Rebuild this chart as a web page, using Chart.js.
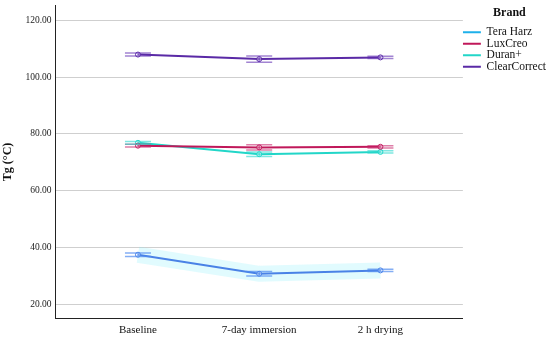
<!DOCTYPE html>
<html lang="en">
<head>
  <meta charset="UTF-8" />
  <title>Tg by brand</title>
  <script src="https://cdn.jsdelivr.net/npm/chart.js"></script>
  <style>
    html, body { margin: 0; padding: 0; background: #fff; }
    #wrap { width: 550px; height: 342px; }
  </style>
</head>
<body>
  <div id="wrap"><canvas id="tgChart"></canvas></div>

  <script>
    const stages = ["Baseline", "7-day immersion", "2 h drying"];
    const brands = ["Tera Harz", "LuxCreo", "Duran+", "ClearCorrect"];
    const yTicks = [20, 40, 60, 80, 100, 120];

    const teraHarz = [37.6, 30.9, 32.1];
    const luxCreo = [75.9, 75.3, 75.5];
    const duranPlus = [76.9, 72.9, 73.7];
    const clearCorrect = [107.9, 106.3, 106.9];

    const teraHarzErr = [0.6, 0.8, 0.4];
    const luxCreoErr = [0.5, 0.9, 0.4];
    const duranPlusErr = [0.5, 0.8, 0.4];
    const clearCorrectErr = [0.5, 1.1, 0.4];

    const seriesValues = [teraHarz, luxCreo, duranPlus, clearCorrect];
    const seriesErr = [teraHarzErr, luxCreoErr, duranPlusErr, clearCorrectErr];
    const lineColors = ["#4a82e6", "#c0185a", "#22d6c8", "#5a2aa6"];
    const legendColors = ["#1eb0ea", "#c0185a", "#22d6c8", "#5a2aa6"];
    const barColors = ["rgba(80,140,240,0.7)", "rgba(200,40,110,0.6)", "rgba(40,215,205,0.6)", "rgba(100,50,180,0.6)"];

    const serif = "'Liberation Serif', 'DejaVu Serif', serif";

    const datasets = brands.map((b, i) => ({
      label: b,
      data: seriesValues[i].map((v, k) => ({ x: k, y: v })),
      borderColor: lineColors[i],
      backgroundColor: lineColors[i],
      borderWidth: 2,
      pointRadius: 2.5,
      pointBorderWidth: 1,
      pointBackgroundColor: "rgba(255,255,255,0.4)",
      tension: 0
    }));

    // light cyan band under Tera Harz
    datasets.push({
      label: "_band",
      data: teraHarz.map((v, k) => ({ x: k, y: v })),
      borderColor: "rgba(120,235,250,0.22)",
      borderWidth: 16,
      pointRadius: 0,
      order: 10
    });

    // error bars drawn through the y scale
    const errorBars = {
      id: "errorBars",
      afterDatasetsDraw(chart) {
        const ctx = chart.ctx;
        const xs = chart.scales.x, ys = chart.scales.y;
        ctx.save();
        seriesValues.forEach((vals, i) => {
          ctx.strokeStyle = barColors[i];
          ctx.lineWidth = 1.5;
          vals.forEach((v, k) => {
            const px = xs.getPixelForValue(k);
            const top = ys.getPixelForValue(v + seriesErr[i][k]);
            const bot = ys.getPixelForValue(v - seriesErr[i][k]);
            ctx.beginPath();
            ctx.moveTo(px - 13, top); ctx.lineTo(px + 13, top);
            ctx.moveTo(px - 13, bot); ctx.lineTo(px + 13, bot);
            ctx.moveTo(px, top); ctx.lineTo(px, bot);
            ctx.stroke();
          });
        });
        ctx.restore();
      }
    };

    new Chart(document.getElementById("tgChart"), {
      type: "line",
      data: { datasets },
      plugins: [errorBars],
      options: {
        responsive: true,
        maintainAspectRatio: false,
        animation: false,
        layout: { padding: { top: 5, right: -6, left: 1, bottom: 0 } },
        plugins: {
          tooltip: { enabled: false },
          legend: {
            position: "right",
            align: "start",
            title: {
              display: true,
              text: "Brand",
              color: "#111",
              font: { family: serif, size: 12, weight: "bold" },
              padding: { top: 2, bottom: 5 }
            },
            labels: {
              color: "#111",
              font: { family: serif, size: 11.5 },
              boxWidth: 18,
              boxHeight: 2,
              padding: 0,
              generateLabels(chart) {
                return brands.map((b, i) => ({
                  text: b,
                  fillStyle: legendColors[i],
                  strokeStyle: legendColors[i],
                  lineWidth: 0,
                  datasetIndex: i
                }));
              }
            }
          }
        },
        scales: {
          x: {
            type: "linear",
            min: -0.68,
            max: 2.68,
            afterBuildTicks: s => { s.ticks = stages.map((_, k) => ({ value: k })); },
            ticks: {
              color: "#111",
              font: { family: serif, size: 11 },
              callback: v => stages[v],
              padding: 5
            },
            grid: { display: false, drawTicks: false },
            border: { color: "#222", width: 1 }
          },
          y: {
            min: 15.1,
            max: 125.3,
            afterBuildTicks: s => { s.ticks = yTicks.map(v => ({ value: v })); },
            afterFit: s => { s.paddingTop = 0; s.paddingBottom = 0; },
            ticks: {
              color: "#222",
              font: { family: serif, size: 9.5 },
              callback: v => Number(v).toFixed(2),
              padding: 4
            },
            grid: { color: "#cfcfcf", drawTicks: false },
            border: { color: "#222", width: 1 },
            title: {
              display: true,
              text: "Tg (°C)",
              color: "#111",
              font: { family: serif, size: 12, weight: "bold" },
              padding: { top: 0, bottom: 6 }
            }
          }
        }
      }
    });
  </script>
</body>
</html>
